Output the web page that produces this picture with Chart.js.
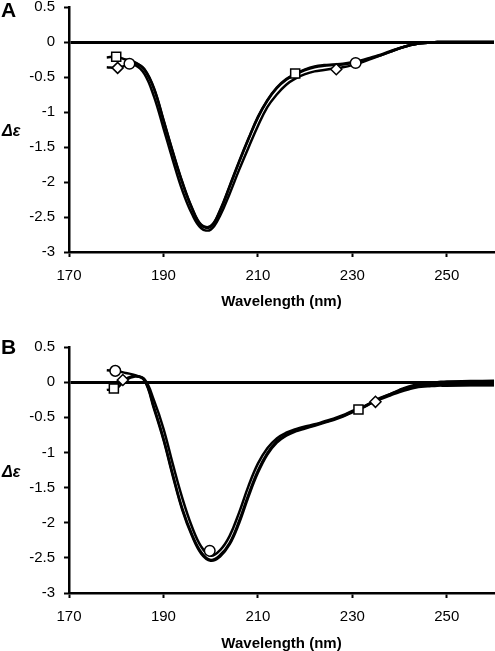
<!DOCTYPE html>
<html><head><meta charset="utf-8">
<script src="https://cdn.jsdelivr.net/npm/chart.js@4"></script>
<style>
html,body{margin:0;padding:0;background:#fff;}
#wrap{position:relative;width:495px;height:651px;overflow:hidden;}
#cA{position:absolute;left:0;top:0;}
#cB{position:absolute;left:0;top:320px;}
</style></head><body>
<div id="wrap">
<canvas id="cA" width="495" height="320"></canvas>
<canvas id="cB" width="495" height="331"></canvas>
</div>
<script>
// ---------- DATA ----------
const wavelength = [178,180,182,184,186,188,190,192,194,196,198,200,202,204,206,208,210,212,214,216,218,220,222,224,226,228,230,232,234,236,238,240,242,244,246,248,250,255,260];
const xTicks = [170,190,210,230,250];
const yTicks = [0.5,0,-0.5,-1,-1.5,-2,-2.5,-3];

// Panel A curves
const aSquare  = [-0.22,-0.21,-0.25,-0.29,-0.39,-0.66,-1.11,-1.57,-2.00,-2.36,-2.61,-2.63,-2.40,-2.06,-1.71,-1.38,-1.07,-0.83,-0.65,-0.53,-0.45,-0.39,-0.35,-0.33,-0.32,-0.31,-0.29,-0.26,-0.22,-0.18,-0.13,-0.09,-0.05,-0.02,-0.01,0,0,0,0];
const aDiamond = [-0.36,-0.37,-0.34,-0.33,-0.46,-0.78,-1.23,-1.69,-2.12,-2.45,-2.66,-2.68,-2.48,-2.17,-1.83,-1.51,-1.20,-0.93,-0.75,-0.61,-0.52,-0.46,-0.42,-0.40,-0.38,-0.36,-0.33,-0.29,-0.24,-0.19,-0.14,-0.09,-0.05,-0.02,-0.01,0,0,0,0];
const aCircle  = [null,null,-0.31,-0.30,-0.40,-0.67,-1.12,-1.58,-2.01,-2.37,-2.62,-2.64,-2.41,-2.07,-1.72,-1.39,-1.08,-0.84,-0.66,-0.54,-0.46,-0.40,-0.36,-0.34,-0.33,-0.32,-0.30,-0.27,-0.23,-0.19,-0.14,-0.09,-0.05,-0.02,-0.01,0,0,0,0];
// Panel A markers [wavelength, value]
const aSquareMarks  = [[180,-0.21],[217.9,-0.45]];
const aDiamondMarks = [[180.3,-0.37],[226.6,-0.39]];
const aCircleMarks  = [[182.8,-0.31],[230.7,-0.30]];

// Panel B curves
const bCircle  = [0.17,0.16,0.13,0.10,0.02,-0.38,-0.82,-1.34,-1.82,-2.18,-2.44,-2.54,-2.48,-2.31,-2.01,-1.63,-1.29,-1.03,-0.86,-0.76,-0.70,-0.66,-0.62,-0.58,-0.54,-0.49,-0.43,-0.37,-0.30,-0.23,-0.17,-0.11,-0.06,-0.03,-0.01,0.0,0.01,0.015,0.02];
const bSquare  = [-0.11,-0.09,0.03,0.08,0.04,-0.26,-0.66,-1.17,-1.65,-2.05,-2.34,-2.47,-2.39,-2.19,-1.86,-1.48,-1.16,-0.94,-0.80,-0.72,-0.67,-0.63,-0.60,-0.56,-0.52,-0.47,-0.41,-0.36,-0.30,-0.24,-0.19,-0.14,-0.10,-0.07,-0.06,-0.05,-0.05,-0.045,-0.045];
const bDiamond = [null,0.0,0.05,0.09,0.03,-0.36,-0.80,-1.32,-1.80,-2.16,-2.42,-2.53,-2.46,-2.29,-1.98,-1.60,-1.26,-1.01,-0.84,-0.75,-0.69,-0.65,-0.61,-0.57,-0.53,-0.48,-0.42,-0.36,-0.29,-0.22,-0.17,-0.12,-0.08,-0.05,-0.04,-0.04,-0.04,-0.04,-0.04];
const bCircleMarks  = [[179.8,0.16],[199.8,-2.40]];
const bSquareMarks  = [[179.5,-0.09],[231.3,-0.39]];
const bDiamondMarks = [[181.4,0.03],[234.9,-0.28]];

// ---------- HELPERS ----------
const FONT = '"Liberation Sans", Arial, Helvetica, sans-serif';
function pts(xs, ys){ const o=[]; xs.forEach((x,i)=>{ if(ys[i]!==null && ys[i]!==undefined) o.push({x:x,y:ys[i]}); }); return o; }
function marks(arr){ return arr.map(p=>({x:p[0],y:p[1]})); }
function lineDs(values){
  return {data: pts(wavelength, values), borderColor:'#000', borderWidth:2.5, pointRadius:0, tension:0.4, fill:false, order:2};
}
function markDs(arr, style, r){
  return {data: marks(arr), showLine:false, pointStyle:style, pointRadius:r, pointHoverRadius:r,
    pointBackgroundColor:'#fff', pointBorderColor:'#000', pointBorderWidth:1.5, order:1};
}

const panelText = {
  id:'panelText',
  afterDraw(chart, args, opts){
    const ctx = chart.ctx;
    ctx.save();
    ctx.fillStyle = '#000';
    ctx.textAlign = 'left';
    ctx.textBaseline = 'middle';
    ctx.font = 'bold 21px ' + FONT;
    ctx.fillText(opts.letter, opts.letterX, opts.letterY);
    ctx.font = 'italic bold 16px ' + FONT;
    ctx.fillText('\u0394\u03b5', opts.yTitleX, opts.yTitleY);
    ctx.restore();
  }
};

function makeChart(id, datasets, cfg){
  return new Chart(document.getElementById(id), {
    type:'line',
    data:{datasets: datasets},
    plugins:[panelText],
    options:{
      responsive:false, animation:false, devicePixelRatio:1,
      layout:{autoPadding:false, padding:{top:cfg.padTop, right:1, left:0, bottom:0}},
      plugins:{legend:{display:false}, tooltip:{enabled:false},
        panelText:{letter:cfg.letter, letterX:1, letterY:cfg.letterY, yTitleX:2, yTitleY:cfg.yTitleY}},
      scales:{
        x:{type:'linear', min:170, max:260,
          afterBuildTicks: s => { s.ticks = xTicks.map(v=>({value:v})); },
          afterFit: s => { s.height = cfg.xHeight; s.paddingLeft=0; s.paddingRight=0; },
          border:{display:true, color:'#000', width:2.5},
          grid:{display:true, drawOnChartArea:false, drawTicks:true, tickLength:5, tickColor:'#000', tickWidth:2},
          ticks:{color:'#000', font:{family:FONT, size:15}, padding:10, maxRotation:0, autoSkip:false},
          title:{display:true, text:'Wavelength (nm)', color:'#000', font:{family:FONT, size:15, weight:'bold', lineHeight:0.7}, padding:{top:0,bottom:cfg.titlePad}}
        },
        y:{type:'linear', min:-3, max:0.5,
          afterBuildTicks: s => { s.ticks = yTicks.map(v=>({value:v})); },
          afterFit: s => { s.width = 69; s.paddingTop=0; s.paddingBottom=0; },
          border:{display:true, color:'#000', width:2.5},
          grid:{display:true, drawOnChartArea:true, drawTicks:true, tickLength:5, tickColor:'#000', tickWidth:2,
            color: c => (c.tick && c.tick.value===0) ? '#000' : 'rgba(0,0,0,0)',
            lineWidth: c => (c.tick && c.tick.value===0) ? 3 : 1},
          ticks:{color:'#000', font:{family:FONT, size:15}, padding:9, autoSkip:false,
            callback: v => String(v)}
        }
      }
    }
  });
}

makeChart('cA', [
  markDs(aSquareMarks,'rect',6.4), markDs(aDiamondMarks,'rectRot',5.5), markDs(aCircleMarks,'circle',5.3),
  lineDs(aSquare), lineDs(aDiamond), lineDs(aCircle)
], {padTop:7, xHeight:68, titlePad:12.75, letter:'A', letterY:11, yTitleY:132});

makeChart('cB', [
  markDs(bSquareMarks,'rect',6.4), markDs(bDiamondMarks,'rectRot',5.5), markDs(bCircleMarks,'circle',5.3),
  lineDs(bSquare), lineDs(bDiamond), lineDs(bCircle)
], {padTop:27, xHeight:58, titlePad:1.5, letter:'B', letterY:28, yTitleY:153});
</script>
</body></html>
